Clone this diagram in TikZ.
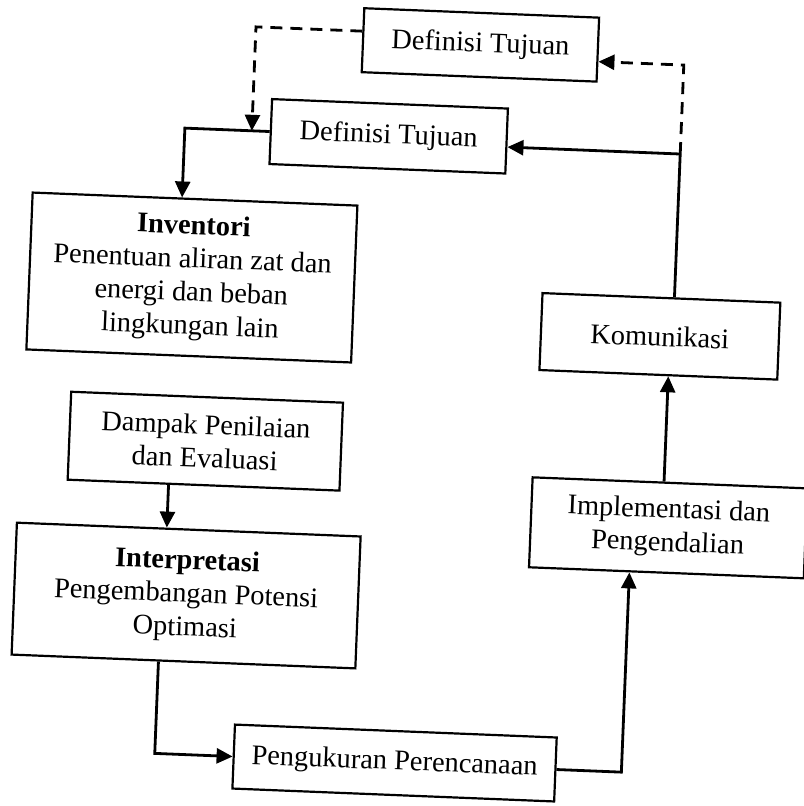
\documentclass[tikz,border=0pt]{standalone}
\usepackage{fontspec}
\setmainfont{Liberation Serif}
\usetikzlibrary{arrows.meta}

\begin{document}
\begin{tikzpicture}[x=0.5pt,y=-0.5pt,
  box/.style={draw, line width=1.1pt, align=center, inner sep=2pt,
              font=\fontsize{14.2}{16.7}\selectfont},
  wire/.style={line width=1.4pt},
  arr/.style={wire, -{Triangle[length=8pt,width=7.5pt]}},
  darr/.style={arr, dash pattern=on 6pt off 4pt},
  dwire/.style={wire, dash pattern=on 6pt off 4pt}]

\useasboundingbox (0,0) rectangle (803,806);

% the whole sheet sits slightly tilted
\begin{scope}[transform canvas={rotate around={-2.3:(401,403)}}]

  % boxes
  \node[box, minimum width=117.5pt, minimum height=32pt] (D1) at (466,42) {Definisi Tujuan};
  \node[box, minimum width=118pt, minimum height=32.5pt] (D2) at (378,137) {Definisi Tujuan};
  \node[box, minimum width=162.5pt, minimum height=78.5pt] (Inv) at (187,286)
    {\textbf{Inventori}\\Penentuan aliran zat dan\\energi dan beban\\lingkungan lain};
  \node[box, minimum width=136pt, minimum height=44pt] (Damp) at (207,449)
    {Dampak Penilaian\\dan Evaluasi};
  \node[box, minimum width=172pt, minimum height=66pt] (Interp) at (194,604)
    {\textbf{Interpretasi}\\Pengembangan Potensi\\Optimasi};
  \node[box, minimum width=161pt, minimum height=32pt] (Peng) at (409,763)
    {Pengukuran Perencanaan};
  \node[box, minimum width=137.5pt, minimum height=45pt] (Impl) at (673,517)
    {Implementasi dan\\Pengendalian};
  \node[box, minimum width=119pt, minimum height=38.5pt] (Kom) at (657,326)
    {Komunikasi};

  % helper points for the connector routes
  \coordinate (J) at (241,137);
  \coordinate (K) at (670,143);
  \coordinate (colInv) at (174,0);
  \coordinate (colEval) at (172,0);
  \coordinate (colInt) at (169,0);
  \coordinate (colUp) at (636,0);
  \coordinate (colKom) at (667,0);
  \coordinate (D1out) at (0,33);
  \coordinate (D1in) at (0,54);

  % solid flow
  \draw[arr] (D2.west) -| (colInv |- Inv.north);
  \draw[arr] (colEval |- Damp.south) -- (colEval |- Interp.north);
  \draw[arr] (colInt |- Interp.south) |- (Peng.west);
  \draw[arr] (Peng.east) -| (colUp |- Impl.south);
  \draw[arr] (colKom |- Impl.north) -- (colKom |- Kom.south);
  \draw[wire] (K |- Kom.north) -- (K);
  \draw[arr] (K) -- (K -| D2.east);

  % dashed feedback
  \draw[darr] (D1.west |- D1out) -| (J);
  \draw[darr] (K) |- (D1.east |- D1in);

\end{scope}
\end{tikzpicture}
\end{document}
